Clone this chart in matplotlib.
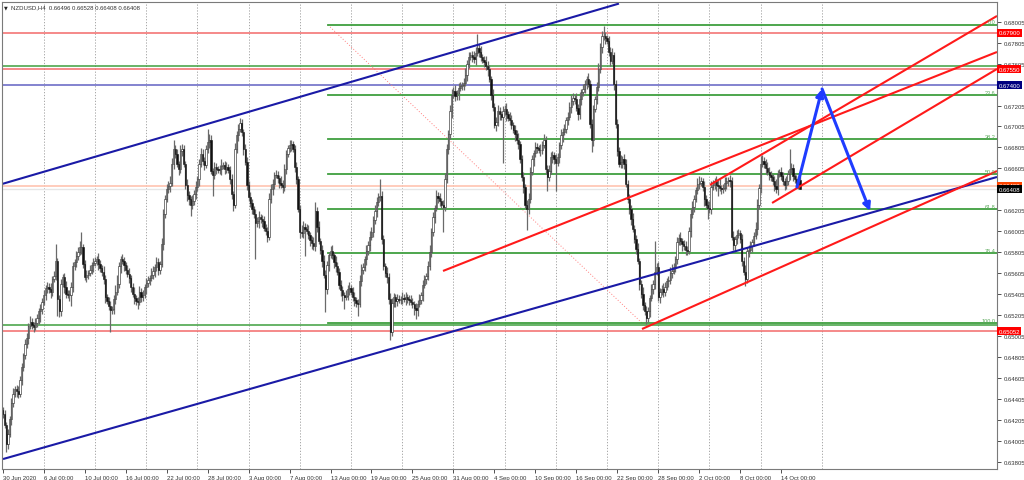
import numpy as np
import matplotlib
matplotlib.use("Agg")
import matplotlib.pyplot as plt
from matplotlib.transforms import blended_transform_factory

# ---------------- data ----------------
title_text = "NZDUSD,H4  0.66496 0.66528 0.66408 0.66408"
PIP = 1e-4
first_open = 6430

close_rows = [
    [6426, 6416, 6397, 6407, 6421, 6437, 6445, 6450, 6448, 6445, 6459, 6471, 6482, 6493, 6499, 6510, 6514, 6511, 6509, 6513, 6518, 6524, 6526, 6533],
    [6540, 6546, 6547, 6545, 6543, 6555, 6558, 6572, 6536, 6524, 6550, 6557, 6547, 6541, 6540, 6540, 6547, 6567, 6571, 6577, 6581, 6585, 6585, 6569],
    [6557, 6559, 6561, 6564, 6568, 6570, 6572, 6574, 6569, 6565, 6562, 6555, 6538, 6534, 6529, 6525, 6526, 6536, 6543, 6550, 6567, 6574, 6572, 6568],
    [6564, 6560, 6556, 6547, 6541, 6537, 6534, 6533, 6543, 6538, 6540, 6547, 6551, 6554, 6556, 6559, 6563, 6566, 6571, 6564, 6569, 6588, 6617, 6631],
    [6641, 6644, 6647, 6665, 6679, 6674, 6665, 6660, 6677, 6679, 6665, 6645, 6635, 6631, 6626, 6629, 6636, 6643, 6650, 6665, 6674, 6668, 6664, 6679],
    [6686, 6688, 6658, 6654, 6662, 6660, 6659, 6660, 6663, 6664, 6660, 6662, 6659, 6650, 6636, 6626, 6679, 6692, 6698, 6704, 6695, 6679, 6667, 6645],
    [6633, 6627, 6622, 6617, 6608, 6610, 6614, 6612, 6610, 6604, 6601, 6595, 6631, 6641, 6646, 6654, 6654, 6651, 6647, 6645, 6643, 6660, 6674, 6680],
    [6683, 6684, 6679, 6662, 6650, 6622, 6600, 6599, 6605, 6603, 6601, 6597, 6592, 6589, 6586, 6620, 6605, 6591, 6583, 6572, 6559, 6545, 6568, 6578],
    [6582, 6578, 6571, 6567, 6562, 6549, 6544, 6540, 6538, 6539, 6545, 6546, 6543, 6538, 6535, 6532, 6531, 6553, 6564, 6566, 6574, 6582, 6587, 6595],
    [6600, 6611, 6620, 6628, 6633, 6634, 6593, 6567, 6561, 6557, 6536, 6504, 6532, 6538, 6534, 6536, 6535, 6536, 6537, 6536, 6538, 6536, 6535, 6533],
    [6531, 6527, 6525, 6531, 6535, 6540, 6549, 6555, 6558, 6567, 6581, 6600, 6614, 6623, 6634, 6632, 6629, 6626, 6624, 6650, 6679, 6693, 6715, 6731],
    [6734, 6730, 6732, 6737, 6739, 6740, 6742, 6750, 6760, 6767, 6769, 6767, 6765, 6771, 6775, 6772, 6767, 6764, 6762, 6758, 6755, 6746, 6731, 6719],
    [6702, 6705, 6715, 6712, 6710, 6715, 6717, 6712, 6709, 6707, 6702, 6697, 6693, 6688, 6684, 6669, 6652, 6643, 6626, 6622, 6631, 6657, 6669, 6675],
    [6681, 6680, 6678, 6678, 6683, 6688, 6660, 6652, 6658, 6671, 6673, 6669, 6666, 6671, 6683, 6692, 6695, 6698, 6707, 6710, 6719, 6725, 6728, 6727],
    [6718, 6712, 6727, 6733, 6736, 6741, 6746, 6741, 6703, 6688, 6717, 6727, 6738, 6755, 6776, 6787, 6787, 6785, 6782, 6772, 6763, 6769, 6741, 6703],
    [6677, 6665, 6667, 6669, 6665, 6646, 6631, 6622, 6612, 6603, 6593, 6584, 6572, 6550, 6541, 6530, 6524, 6518, 6524, 6537, 6545, 6550, 6562, 6566],
    [6538, 6543, 6545, 6543, 6547, 6553, 6554, 6561, 6563, 6566, 6574, 6590, 6594, 6591, 6588, 6586, 6583, 6582, 6601, 6617, 6624, 6631, 6640, 6646],
    [6647, 6648, 6643, 6631, 6626, 6623, 6622, 6643, 6645, 6648, 6645, 6644, 6642, 6641, 6642, 6647, 6648, 6649, 6648, 6595, 6587, 6593, 6597, 6599],
    [6593, 6572, 6562, 6555, 6582, 6583, 6586, 6590, 6596, 6603, 6626, 6642, 6665, 6668, 6665, 6661, 6657, 6654, 6652, 6648, 6644, 6641, 6655, 6657],
    [6653, 6648, 6645, 6648, 6655, 6660, 6661, 6653, 6650, 6646, 6649.6, 6640.8],
]

up_rows = [
    [3,4,2,5,3,4,6,3,4,5,3,4,2,5,4,3,6,4,3,5,4,3,5,4],
    [4,3,5,4,6,3,5,16,3,4,5,3,4,6,3,4,5,4,3,5,4,6,15,3],
    [4,5,3,4,3,5,4,3,6,4,3,5,4,3,4,5,3,4,6,9,4,3,5,4],
    [3,4,5,3,4,6,3,4,5,3,4,3,5,4,3,6,4,3,5,4,3,6,5,4],
    [5,4,6,5,9,4,5,3,6,5,4,3,5,4,3,6,4,5,3,4,6,5,3,4],
    [12,5,4,3,5,4,3,4,6,3,4,5,3,4,5,3,6,4,5,5,4,3,5,4],
    [3,5,4,3,5,4,6,3,4,5,3,4,6,5,4,3,5,4,3,6,4,5,4,3],
    [5,4,3,4,5,3,4,6,5,3,4,5,3,4,6,8,4,5,3,4,6,5,4,3],
    [4,5,3,6,4,3,5,4,3,5,4,6,3,4,5,3,4,6,5,4,3,5,4,6],
    [5,4,6,5,4,16,5,4,3,5,4,6,5,4,3,5,4,3,6,4,5,3,4,5],
    [4,3,5,4,6,3,5,4,3,5,6,4,5,3,6,4,5,3,4,6,5,4,6,5],
    [4,6,3,5,4,3,5,6,4,5,3,4,6,5,14,4,5,3,4,6,5,4,3,5],
    [4,5,6,4,3,5,4,6,3,5,4,3,5,4,6,3,4,5,3,4,6,5,4,3],
    [5,4,3,6,4,5,3,4,6,5,4,3,5,4,3,6,4,5,3,4,5,6,4,3],
    [5,4,6,3,5,4,3,6,4,5,4,3,5,6,4,5,9,4,3,5,4,6,3,4],
    [5,4,6,3,5,4,3,5,4,6,3,4,5,3,4,6,3,5,4,3,5,4,29,4],
    [5,3,4,6,5,3,4,5,6,4,3,5,4,6,3,4,5,3,4,6,5,4,3,5],
    [6,4,3,5,4,3,6,5,4,3,5,4,6,3,4,5,4,3,5,4,6,3,5,4],
    [3,5,4,6,3,4,5,3,4,6,5,4,7,5,3,4,6,5,4,3,5,6,4,3],
    [5,4,3,5,4,19,5,4,3,4,3,3.2],
]

dn_rows = [
    [4,3,7,4,3,5,4,3,6,4,3,5,4,3,4,6,3,4,5,3,4,6,10,4],
    [3,5,4,3,6,4,3,4,16,5,4,3,5,4,3,6,11,4,3,5,4,3,6,4],
    [3,5,4,3,4,6,3,4,5,3,4,5,6,3,4,21,3,4,5,3,4,6,3,5],
    [4,3,5,4,3,6,4,7,3,5,4,3,6,4,5,3,4,6,3,5,4,3,5,4],
    [3,4,6,3,5,4,3,6,4,5,3,4,6,5,11,4,3,5,4,6,3,4,5,3],
    [4,6,3,20,4,5,3,4,6,3,5,4,3,4,5,6,3,4,5,3,4,6,3,5],
    [4,3,5,4,34,3,6,4,5,3,4,5,3,4,6,5,3,4,5,3,6,4,5,3],
    [4,6,3,5,4,3,6,4,5,26,3,4,6,5,3,4,5,3,4,6,3,22,4,5],
    [3,4,6,5,3,4,5,6,12,3,4,5,3,4,6,4,11,3,5,4,3,6,4,5],
    [3,5,4,6,3,4,5,3,4,6,5,7,3,4,6,5,3,4,5,3,6,4,5,3],
    [4,6,8,5,3,4,6,3,5,4,3,5,4,6,3,5,4,3,24,4,3,5,4,6],
    [3,5,4,6,3,4,5,3,6,4,3,5,4,6,3,5,4,3,5,4,6,3,5,4],
    [3,6,4,5,3,44,4,6,3,5,4,3,6,4,5,3,4,6,3,20,5,4,3,6],
    [4,5,3,6,4,3,5,13,4,3,5,4,27,3,5,4,6,3,4,5,3,6,4,5],
    [3,5,4,6,3,4,5,3,4,12,6,3,5,4,3,5,4,6,3,4,5,3,6,4],
    [5,3,4,6,5,3,4,5,6,3,4,5,3,6,4,5,3,6,4,5,3,4,5,3],
    [4,6,3,5,4,3,6,4,5,3,4,5,3,4,6,3,5,4,3,6,4,5,3,4],
    [5,3,4,6,3,11,4,5,3,4,6,10,3,5,4,3,6,4,5,3,4,6,5,3],
    [4,5,3,7,4,6,3,5,4,3,6,4,5,3,4,6,3,5,4,3,5,4,6,3],
    [4,3,5,4,3,6,4,5,3,4,5,0],
]

date_labels = ["30 Jun 2020", "6 Jul 00:00", "10 Jul 00:00", "16 Jul 00:00", "22 Jul 00:00",
               "28 Jul 00:00", "3 Aug 00:00", "7 Aug 00:00", "13 Aug 00:00", "19 Aug 00:00",
               "25 Aug 00:00", "31 Aug 00:00", "4 Sep 00:00", "10 Sep 00:00", "16 Sep 00:00",
               "22 Sep 00:00", "28 Sep 00:00", "2 Oct 00:00", "8 Oct 00:00", "14 Oct 00:00"]
BARS_PER_LABEL = 24
grid_bars = [24, 54, 84, 114, 144, 174, 204, 234, 264, 294, 324, 354, 384, 414, 444, 480]

price_ticks = [0.63805, 0.64005, 0.64205, 0.64405, 0.64605, 0.64805, 0.65005, 0.65205,
               0.65405, 0.65605, 0.65805, 0.66005, 0.66205, 0.66405, 0.66605, 0.66805,
               0.67005, 0.67205, 0.67405, 0.67605, 0.67805, 0.68005]
hidden_ticks = [0.66405, 0.67405]   # covered by the price boxes in the original

red_levels = [0.67900, 0.67550, 0.65052]
green_full_levels = [0.67583, 0.65110]
blue_level = 0.67400
bid_level = 0.66408
ask_level = 0.66438

fib_start_bar = 190.5
fib_levels = [0.67975, 0.67302, 0.66886, 0.66550, 0.66214, 0.65798, 0.65125]
fib_names = ["0.0", "23.6", "38.2", "50.0", "61.8", "76.4", "100.0"]
fib_diag = [(190.5, 0.67974), (375.1, 0.65120)]

navy_lines = [((-0.5, 0.66456), (361.0, 0.68178)),
              ((0.1, 0.63831), (582.5, 0.66523))]
red_lines = [((257.9, 0.65626), (582.5, 0.67716)),
             ((414.3, 0.66447), (582.5, 0.68060)),
             ((450.7, 0.66275), (582.5, 0.67554)),
             ((374.5, 0.65072), (582.5, 0.66580))]
arrow_path = [(465.3, 0.66428), (480.0, 0.67363), (508.1, 0.66198)]

price_boxes = [(0.67900, "0.67900", "#ff0000"), (0.67550, "0.67550", "#ff0000"),
               (0.67400, "0.67400", "#000080"), (0.66438, "0.66438", "#ff4500"),
               (0.66408, "0.66408", "#000000"), (0.65052, "0.65052", "#ff0000")]

# ---------------- build OHLC ----------------
for rows in (close_rows, up_rows, dn_rows):
    assert all(len(r) == 24 for r in rows[:-1]) and len(rows[-1]) == 12, [len(r) for r in rows]
closes = np.array(sum(close_rows, [])) * PIP
upw = np.array(sum(up_rows, [])) * PIP
dnw = np.array(sum(dn_rows, [])) * PIP
opens = np.concatenate([[first_open * PIP], closes[:-1]])
highs = np.maximum(opens, closes) + upw
lows = np.minimum(opens, closes) - dnw
n = len(closes)
idx = np.arange(n)

# ---------------- figure ----------------
FONT = ['Liberation Sans', 'DejaVu Sans']
plt.rcParams['font.family'] = FONT
SMALL = 4.3
fig = plt.figure(figsize=(10.24, 4.81), dpi=100)
ax = fig.add_axes([2/1024, 11/481, 995/1024, 467/481])
ax.set_xlim(-0.5, 582.5)
ax.set_ylim(0.63736, 0.68193)
ax.set_facecolor("white")

for b in grid_bars:
    ax.axvline(b, color="#9a9a9a", lw=0.6, ls=(0, (1.5, 2)), zorder=0.5)

ax.axhline(ask_level, color="#ffc4b0", lw=1.2, zorder=1)
ax.axhline(bid_level, color="#e6e6e6", lw=1.0, zorder=1)
ax.axhline(blue_level, color="#7a7acc", lw=1.3, zorder=1)
for g in green_full_levels:
    ax.axhline(g, color="#3f9f3f", lw=1.1, zorder=1)
for r in red_levels:
    ax.axhline(r, color="#f26a6a", lw=1.1, zorder=1.1)

ax.plot([p[0] for p in fib_diag], [p[1] for p in fib_diag], color="#ff8080",
        lw=0.7, ls=(0, (1, 2)), zorder=1)
for lv, nm in zip(fib_levels, fib_names):
    ax.plot([fib_start_bar, 582.5], [lv, lv], color="#3f9f3f", lw=1.3, zorder=1.2)
    ax.text(581.5, lv + 0.00004, nm, color="#5aa85a", fontsize=4.0,
            ha="right", va="bottom", zorder=3)

up = closes >= opens
ax.vlines(idx, lows, highs, color="#6a6a6a", lw=0.9, zorder=2)
body_bot = np.minimum(opens, closes)
body_h = np.maximum(np.abs(closes - opens), 0.00002)
ax.bar(idx[up], body_h[up], bottom=body_bot[up], width=0.75, color="white",
       edgecolor="#222222", linewidth=0.4, zorder=2.1)
ax.bar(idx[~up], body_h[~up], bottom=body_bot[~up], width=0.75, color="#111111",
       edgecolor="#111111", linewidth=0.4, zorder=2.1)

for (a, b) in navy_lines:
    ax.plot([a[0], b[0]], [a[1], b[1]], color="#1a1aa6", lw=1.5, zorder=2.5,
            solid_capstyle="butt")
for (a, b) in red_lines:
    ax.plot([a[0], b[0]], [a[1], b[1]], color="#ff1a1a", lw=1.5, zorder=2.5,
            solid_capstyle="butt")

for s, e in zip(arrow_path[:-1], arrow_path[1:]):
    ax.annotate("", xy=e, xytext=s,
                arrowprops=dict(arrowstyle="-|>", color="#1f3cff", lw=2.2,
                                mutation_scale=11, shrinkA=0, shrinkB=0), zorder=4)

for sp in ax.spines.values():
    sp.set_color("#7a7a7a")
    sp.set_linewidth(0.8)
ax.yaxis.tick_right()
ax.set_yticks(price_ticks)
ax.set_yticklabels(["" if p in hidden_ticks else f"{p:.5f}" for p in price_ticks])
ax.tick_params(axis="y", length=3, width=0.6, colors="#333333", labelsize=SMALL, pad=2)
tick_pos = [i * BARS_PER_LABEL for i in range(len(date_labels))]
ax.set_xticks(tick_pos)
ax.set_xticklabels(date_labels)
ax.tick_params(axis="x", length=3, width=0.6, colors="#333333", labelsize=SMALL, pad=1.5)
for lab in ax.get_xticklabels():
    lab.set_horizontalalignment("left")

tr = blended_transform_factory(ax.transAxes, ax.transData)
for pr, txt, bg in price_boxes:
    ax.text(1.0015, pr, txt, transform=tr, fontsize=SMALL, color="white", ha="left",
            va="center", clip_on=False, zorder=10,
            bbox=dict(boxstyle="square,pad=0.25", fc=bg, ec="none"))

fig.text(4/1024, 1 - 8/481, "\u25BC", fontsize=3.5, color="#222222", va="center", ha="left",
         family=['DejaVu Sans'])
fig.text(11/1024, 1 - 8/481, title_text, fontsize=SMALL, color="#333333", va="center", ha="left")

fig.savefig("out.png", dpi=100, facecolor="white")
